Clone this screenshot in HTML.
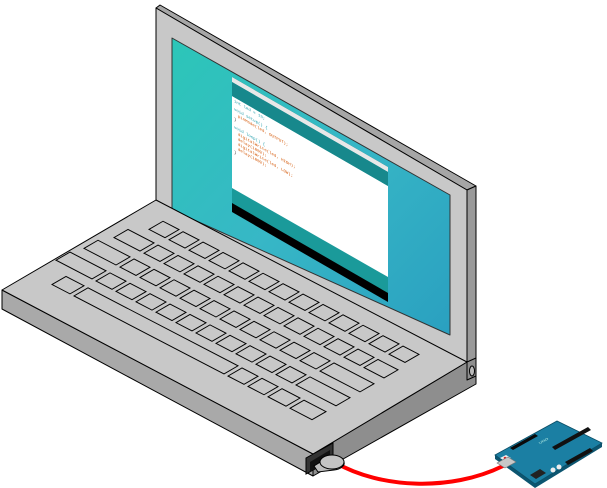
<!DOCTYPE html>
<html><head><meta charset="utf-8"><style>
html,body{margin:0;padding:0;background:#fff;width:607px;height:488px;overflow:hidden}
svg{display:block}
</style></head><body>
<svg width="607" height="488" viewBox="0 0 607 488" xmlns="http://www.w3.org/2000/svg">
<defs>
<linearGradient id="scr" x1="0" y1="0" x2="1" y2="1">
<stop offset="0" stop-color="#2cc6b8"/><stop offset="0.5" stop-color="#37b7c6"/><stop offset="1" stop-color="#2aa0c0"/>
</linearGradient>
</defs>
<g stroke="#000" stroke-width="1" stroke-linejoin="round">
<polygon points="156,8 160,5 476,186 467,190" fill="#a6a6a6"/>
<polygon points="467,190 476,186 476,376 467,380" fill="#9a9a9a"/>
<polygon points="156,8 467,190 467,380 156,200" fill="#c8c8c8"/>
<polygon points="172,38 450,195 450,335 172,210" fill="url(#scr)" stroke="#333"/>
</g>
<polygon points="232,77 388,167 388,302 232,212" fill="#000"/>
<polygon points="232,77 388,167 388,293 232,203" fill="#1a9a9a"/>
<polygon points="232,96 388,186 388,277 232,188" fill="#fff"/>
<polygon points="232,77 388,167 388,172 232,82" fill="#e8e8e8"/>
<polygon points="232,82 388,172 388,186 232,96" fill="#17888c"/>
<g font-family="Liberation Mono, monospace" font-size="4" transform="matrix(1,0.577,0,1,234,100)">
<text x="0" y="2" fill="#1a9aa8">int led = 13;</text>
<text x="0" y="10" fill="#1a9aa8">void setup() {</text>
<text x="4" y="15" fill="#d35400">pinMode(led, OUTPUT);</text>
<text x="0" y="20" fill="#333">}</text>
<text x="0" y="28" fill="#1a9aa8">void loop() {</text>
<text x="4" y="33" fill="#d35400">digitalWrite(led, HIGH);</text>
<text x="4" y="38" fill="#d35400">delay(1000);</text>
<text x="4" y="43" fill="#d35400">digitalWrite(led, LOW);</text>
<text x="4" y="48" fill="#d35400">delay(1000);</text>
<text x="0" y="53" fill="#333">}</text>
</g>
<g stroke="#000" stroke-width="1" stroke-linejoin="round">
<polygon points="2,290 313,454 313,476 2,309" fill="#a9a9a9"/>
<polygon points="313,454 467,362 476,368 476,384 313,476" fill="#8e8e8e"/>
<polygon points="467,362 476,358 476,376 467,380" fill="#8e8e8e"/>
<ellipse cx="472" cy="371" rx="2.5" ry="5" fill="#bbb"/>
<polygon points="156,200 467,362 313,454 2,290" fill="#c8c8c8"/>
</g>
<g fill="none" stroke="#000" stroke-width="1" transform="matrix(1,0.52,-1,0.58,156,200)">
<!-- row0 -->
<rect x="23" y="16" width="16" height="14"/><rect x="43" y="16" width="16" height="14"/><rect x="63" y="16" width="16" height="14"/><rect x="83" y="16" width="16" height="14"/><rect x="103" y="16" width="16" height="14"/><rect x="123" y="16" width="16" height="14"/><rect x="143" y="16" width="16" height="14"/><rect x="163" y="16" width="16" height="14"/><rect x="183" y="16" width="16" height="14"/><rect x="203" y="16" width="16" height="14"/><rect x="223" y="16" width="16" height="14"/><rect x="243" y="16" width="16" height="14"/><rect x="263" y="16" width="16" height="14"/>
<!-- row1 -->
<rect x="12" y="40" width="26" height="14"/><rect x="42" y="40" width="16" height="14"/><rect x="62" y="40" width="16" height="14"/><rect x="82" y="40" width="16" height="14"/><rect x="102" y="40" width="16" height="14"/><rect x="122" y="40" width="16" height="14"/><rect x="142" y="40" width="16" height="14"/><rect x="162" y="40" width="16" height="14"/><rect x="182" y="40" width="16" height="14"/><rect x="202" y="40" width="16" height="14"/><rect x="222" y="40" width="16" height="14"/><rect x="242" y="40" width="16" height="14"/><rect x="262" y="40" width="20" height="14"/>
<!-- row2 -->
<rect x="6" y="64" width="32" height="14"/><rect x="42" y="64" width="16" height="14"/><rect x="62" y="64" width="16" height="14"/><rect x="82" y="64" width="16" height="14"/><rect x="102" y="64" width="16" height="14"/><rect x="122" y="64" width="16" height="14"/><rect x="142" y="64" width="16" height="14"/><rect x="162" y="64" width="16" height="14"/><rect x="182" y="64" width="16" height="14"/><rect x="202" y="64" width="16" height="14"/><rect x="222" y="64" width="16" height="14"/><rect x="242" y="64" width="40" height="14"/>
<!-- row3 -->
<rect x="2" y="88" width="36" height="14"/><rect x="42" y="88" width="16" height="14"/><rect x="62" y="88" width="16" height="14"/><rect x="82" y="88" width="16" height="14"/><rect x="102" y="88" width="16" height="14"/><rect x="122" y="88" width="16" height="14"/><rect x="142" y="88" width="16" height="14"/><rect x="162" y="88" width="16" height="14"/><rect x="182" y="88" width="16" height="14"/><rect x="202" y="88" width="16" height="14"/><rect x="222" y="88" width="16" height="14"/><rect x="242" y="88" width="40" height="14"/>
<!-- row4 -->
<rect x="22" y="112" width="18" height="14"/><rect x="44" y="112" width="150" height="14"/><rect x="198" y="112" width="16" height="14"/><rect x="218" y="112" width="16" height="14"/><rect x="238" y="112" width="18" height="14"/><rect x="260" y="112" width="22" height="14"/>
</g>
<path d="M336 463 C 380 488, 450 492, 503 466" fill="none" stroke="#ff0000" stroke-width="4"/>
<polygon points="306,458 333,443 333,459 306,474" fill="#333" stroke="#000"/>
<polygon points="310,462 330,450 330,460 310,472" fill="#111"/>
<path d="M314 466 L330 456 A12 7 0 1 1 334 470 L318 472 Z" fill="#bdbdbd" stroke="#000"/>
<ellipse cx="332" cy="462" rx="12" ry="7" fill="#c4c4c4" stroke="#000"/>
<polygon points="495,455 557,421 602,443 602,447 535,488 495,459" fill="#0c5570"/>
<polygon points="495,455 557,421 602,443 535,484" fill="#1b7fa3" stroke="#0c4e66" stroke-width="0.8"/>
<polygon points="500,458 506,455 511,458 505,461" fill="#eee"/>
<circle cx="505" cy="458" r="1.3" fill="#d22"/>
<polygon points="497,463 508,457 516,462 505,468" fill="#c8c8c8" stroke="#777" stroke-width="0.6"/>
<polygon points="552,447 588,427 591,430 555,450" fill="#111"/>
<polygon points="510,448 535,434 538,436 513,450" fill="#0a0a0a"/>
<polygon points="565,462 590,448 593,451 568,465" fill="#111"/>
<circle cx="553" cy="470" r="2.5" fill="#eee"/><circle cx="559" cy="467" r="2.5" fill="#eee"/>
<polygon points="530,475 540,469 546,473 536,479" fill="#222"/>
<text x="0" y="0" font-family="Liberation Sans, sans-serif" font-size="4" fill="#cfe" transform="matrix(1,-0.55,0.6,0.5,540,444)">UNO</text>
</svg>
</body></html>
